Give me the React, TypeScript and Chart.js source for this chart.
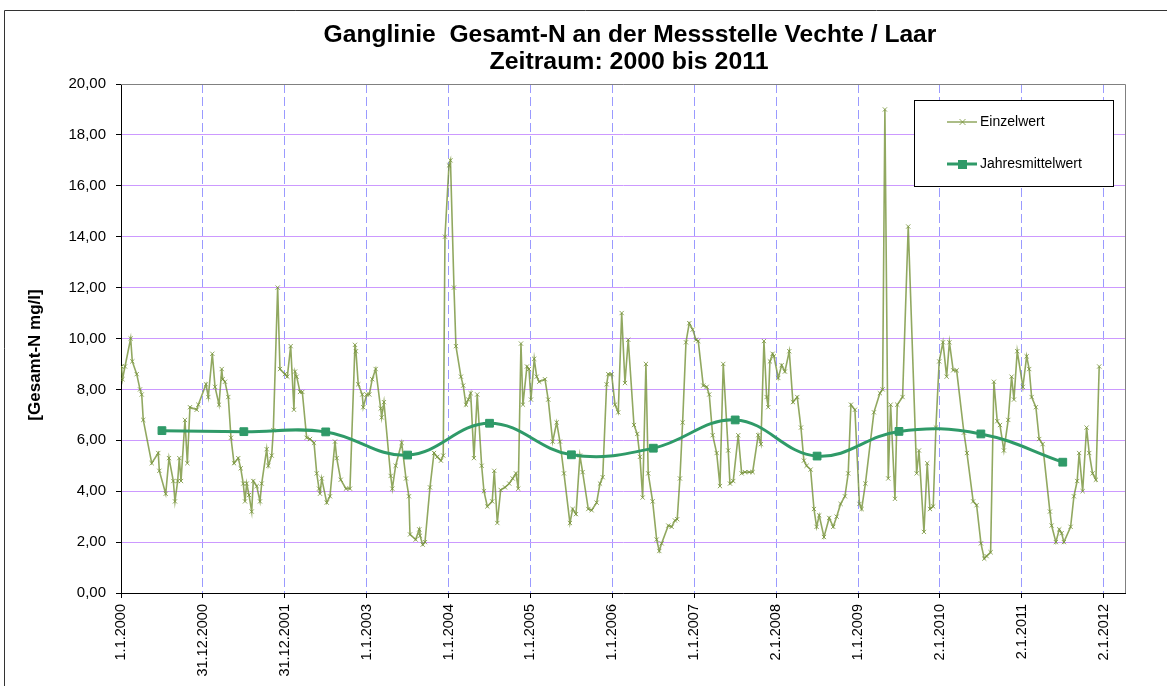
import React, { useEffect, useRef } from "react";
import { Chart, registerables } from "chart.js";

Chart.register(...registerables);

// ---- data (time in years since 1.1.2000) ----
const einzelTimes: number[] = [
  0.006, 0.018, 0.049, 0.118, 0.138, 0.192, 0.232, 0.253, 0.272, 0.375, 0.455, 0.468, 0.546, 0.586, 0.639, 0.659,
  0.692, 0.712, 0.733, 0.781, 0.81, 0.842, 0.924, 0.944, 1.038, 1.066, 1.115, 1.148, 1.197, 1.23, 1.242, 1.27,
  1.31, 1.343, 1.38, 1.432, 1.462, 1.493, 1.514, 1.535, 1.563, 1.596, 1.615, 1.657, 1.697, 1.718, 1.779, 1.799,
  1.84, 1.86, 1.913, 1.941, 2.002, 2.031, 2.072, 2.112, 2.125, 2.145, 2.186, 2.214, 2.267, 2.308, 2.357, 2.39,
  2.418, 2.43, 2.451, 2.512, 2.552, 2.613, 2.634, 2.683, 2.747, 2.796, 2.857, 2.869, 2.897, 2.946, 2.958, 3.0,
  3.032, 3.068, 3.11, 3.171, 3.183, 3.211, 3.293, 3.313, 3.354, 3.427, 3.48, 3.516, 3.529, 3.598, 3.642, 3.651,
  3.684, 3.712, 3.773, 3.822, 3.862, 3.907, 3.935, 3.956, 4.005, 4.023, 4.066, 4.09, 4.151, 4.179, 4.212, 4.241,
  4.27, 4.31, 4.35, 4.404, 4.432, 4.473, 4.533, 4.558, 4.595, 4.636, 4.689, 4.741, 4.783, 4.823, 4.851, 4.884,
  4.908, 4.957, 4.982, 5.006, 5.046, 5.076, 5.107, 5.177, 5.217, 5.271, 5.32, 5.36, 5.409, 5.482, 5.515, 5.556,
  5.604, 5.637, 5.706, 5.747, 5.808, 5.849, 5.882, 5.93, 5.95, 5.991, 6.032, 6.072, 6.114, 6.154, 6.194, 6.264,
  6.304, 6.337, 6.37, 6.41, 6.438, 6.492, 6.541, 6.573, 6.602, 6.683, 6.724, 6.764, 6.792, 6.825, 6.858, 6.899,
  6.939, 6.981, 7.021, 7.049, 7.11, 7.152, 7.183, 7.225, 7.274, 7.314, 7.354, 7.415, 7.436, 7.476, 7.537, 7.579,
  7.619, 7.672, 7.713, 7.781, 7.814, 7.851, 7.884, 7.903, 7.924, 7.957, 7.973, 8.026, 8.067, 8.107, 8.16, 8.205,
  8.258, 8.303, 8.339, 8.372, 8.421, 8.462, 8.494, 8.526, 8.584, 8.648, 8.697, 8.739, 8.787, 8.84, 8.88, 8.913,
  8.962, 9.017, 9.044, 9.09, 9.194, 9.267, 9.3, 9.328, 9.369, 9.398, 9.451, 9.479, 9.544, 9.613, 9.716, 9.744,
  9.805, 9.845, 9.878, 9.918, 9.951, 9.991, 10.037, 10.082, 10.116, 10.162, 10.204, 10.293, 10.33, 10.406, 10.448, 10.501,
  10.541, 10.57, 10.619, 10.659, 10.7, 10.733, 10.781, 10.834, 10.875, 10.904, 10.944, 11.013, 11.059, 11.09, 11.12, 11.172,
  11.212, 11.254, 11.343, 11.364, 11.416, 11.457, 11.486, 11.514, 11.596, 11.636, 11.676, 11.7, 11.743, 11.791, 11.823, 11.864,
  11.905, 11.945,
];

const einzelValues: number[] = [
  8.9, 8.4, 8.9, 10.0, 9.1, 8.6, 8.0, 7.8, 6.8, 5.1, 5.5, 4.8, 3.9, 5.3, 4.4, 3.6,
  4.4, 5.3, 4.4, 6.8, 5.1, 7.3, 7.2, 7.4, 8.2, 7.7, 9.4, 8.1, 7.4, 8.8, 8.4, 8.3,
  7.7, 6.1, 5.1, 5.3, 4.9, 4.3, 3.6, 4.3, 3.85, 3.2, 4.4, 4.2, 3.6, 4.3, 5.65, 5.0,
  5.4, 6.4, 12.0, 8.8, 8.6, 8.5, 9.7, 7.2, 8.7, 8.5, 7.9, 7.9, 6.1, 6.05, 5.9, 4.7,
  4.1, 3.9, 4.5, 3.55, 3.8, 5.95, 5.3, 4.45, 4.1, 4.1, 9.75, 9.5, 8.2, 7.8, 7.3, 7.8,
  7.8, 8.4, 8.8, 7.25, 6.9, 7.5, 4.6, 4.1, 5.0, 5.9, 4.5, 3.8, 2.3, 2.1, 2.5, 2.25,
  1.9, 2.0, 4.15, 5.5, 5.35, 5.2, 5.4, 14.0, 16.8, 17.0, 12.0, 9.7, 8.5, 8.15, 7.4, 7.6,
  7.85, 5.3, 7.8, 5.0, 4.0, 3.4, 3.6, 4.8, 2.75, 4.05, 4.15, 4.3, 4.5, 4.7, 4.1, 9.8,
  7.4, 8.9, 8.8, 7.6, 9.2, 8.5, 8.3, 8.4, 7.6, 5.95, 6.7, 5.95, 4.7, 2.75, 3.3, 3.1,
  5.4, 4.75, 3.3, 3.25, 3.55, 4.3, 4.55, 8.2, 8.6, 8.6, 7.4, 7.1, 11.0, 8.25, 9.95, 6.6,
  6.25, 5.35, 3.75, 9.0, 4.7, 3.6, 2.1, 1.65, 1.95, 2.65, 2.6, 2.85, 2.9, 4.5, 6.7, 9.85,
  10.6, 10.35, 9.95, 9.9, 8.15, 8.1, 7.8, 6.2, 5.5, 4.2, 9.0, 5.6, 4.3, 4.4, 6.2, 4.7,
  4.75, 4.75, 4.75, 6.2, 5.85, 9.9, 7.7, 7.3, 9.1, 9.4, 9.3, 8.45, 8.95, 8.7, 9.5, 7.5,
  7.7, 6.5, 5.2, 5.0, 4.85, 3.3, 2.6, 3.05, 2.2, 2.95, 2.6, 3.0, 3.5, 3.8, 4.7, 7.4,
  7.2, 3.5, 3.3, 4.3, 7.1, 7.85, 8.0, 19.0, 4.5, 7.4, 3.7, 7.4, 7.7, 14.4, 4.7, 5.6,
  2.4, 5.1, 3.3, 3.4, 6.5, 9.1, 9.85, 8.5, 9.85, 8.75, 8.75, 6.3, 5.5, 3.6, 3.45, 1.95,
  1.35, 1.45, 1.6, 8.3, 6.75, 6.6, 5.6, 6.8, 8.5, 7.6, 9.5, 8.1, 9.3, 8.8, 7.7, 7.3,
  6.05, 5.85, 3.2, 2.65, 2.0, 2.5, 2.35, 2.0, 2.6, 3.8, 4.4, 5.5, 4.0, 6.5, 5.5, 4.7,
  4.45, 8.9,
];

const mittelTimes: number[] = [0.5, 1.5, 2.5, 3.5, 4.5, 5.5, 6.5, 7.5, 8.5, 9.5, 10.5, 11.5];
const mittelValues: number[] = [6.38, 6.34, 6.33, 5.42, 6.67, 5.43, 5.69, 6.8, 5.38, 6.35, 6.25, 5.14];

const xTickValues: number[] = [0, 1, 2, 3, 4, 5, 6, 7, 8, 9, 10, 11, 12];
const xTickLabels: string[] = [
  "1.1.2000", "31.12.2000", "31.12.2001", "1.1.2003", "1.1.2004", "1.1.2005", "1.1.2006",
  "1.1.2007", "2.1.2008", "1.1.2009", "2.1.2010", "2.1.2011", "2.1.2012",
];
const xMin = 0;
const xMax = 12.26;
const yMin = 0;
const yMax = 20;
const yStep = 2;

const titleLines: string[] = ["Ganglinie  Gesamt-N an der Messstelle Vechte / Laar", "Zeitraum: 2000 bis 2011"];
const yAxisTitle = "[Gesamt-N mg/l]";
const seriesNames: string[] = ["Einzelwert", "Jahresmittelwert"];

const FONT = "'Liberation Sans', Arial, sans-serif";
const EINZEL_COLOR = "rgba(118,146,56,0.8)";
const MITTEL_COLOR = "#2f9a68";

const decorPlugin = {
  id: "decor",
  afterDraw(chart: any) {
    const ctx = chart.ctx as CanvasRenderingContext2D;
    const area = chart.chartArea;
    ctx.save();
    // outer frame
    ctx.strokeStyle = "#333";
    ctx.lineWidth = 1;
    ctx.beginPath();
    ctx.moveTo(4.5, 686);
    ctx.lineTo(4.5, 10.5);
    ctx.lineTo(1167, 10.5);
    ctx.stroke();

    // plot area border (top/right)
    ctx.strokeStyle = "#808080";
    ctx.beginPath();
    ctx.moveTo(area.left, Math.round(area.top) + 0.5);
    ctx.lineTo(Math.round(area.right) + 0.5, Math.round(area.top) + 0.5);
    ctx.lineTo(Math.round(area.right) + 0.5, area.bottom);
    ctx.stroke();

    // title (slightly widened like the original)
    ctx.fillStyle = "#000";
    ctx.textAlign = "center";
    ctx.textBaseline = "middle";
    ctx.font = `bold 23px ${FONT}`;
    ctx.save();
    ctx.translate(630, 36);
    ctx.scale(1.07, 1);
    ctx.fillText(titleLines[0], 0, 0);
    ctx.restore();
    ctx.save();
    ctx.translate(629, 63);
    ctx.scale(1.08, 1);
    ctx.fillText(titleLines[1], 0, 0);
    ctx.restore();

    // y axis title
    ctx.save();
    ctx.translate(35, 355);
    ctx.rotate(-Math.PI / 2);
    ctx.font = `bold 17px ${FONT}`;
    ctx.fillText(yAxisTitle, 0, 0);
    ctx.restore();

    // legend
    const bx = 914.5, by = 100.5, bw = 199, bh = 86;
    ctx.fillStyle = "#fff";
    ctx.fillRect(bx, by, bw, bh);
    ctx.strokeStyle = "#000";
    ctx.lineWidth = 1;
    ctx.strokeRect(bx, by, bw, bh);

    // entry 1
    const y1 = 122, y2 = 164;
    ctx.strokeStyle = EINZEL_COLOR;
    ctx.lineWidth = 1.5;
    ctx.beginPath();
    ctx.moveTo(947, y1);
    ctx.lineTo(977, y1);
    ctx.stroke();
    ctx.lineWidth = 1;
    ctx.beginPath();
    ctx.moveTo(959.5, y1 - 3);
    ctx.lineTo(965.5, y1 + 3);
    ctx.moveTo(965.5, y1 - 3);
    ctx.lineTo(959.5, y1 + 3);
    ctx.stroke();

    // entry 2
    ctx.strokeStyle = MITTEL_COLOR;
    ctx.lineWidth = 3;
    ctx.beginPath();
    ctx.moveTo(947, y2);
    ctx.lineTo(977, y2);
    ctx.stroke();
    ctx.fillStyle = MITTEL_COLOR;
    ctx.fillRect(958, y2 - 4, 9, 9);

    ctx.fillStyle = "#000";
    ctx.textAlign = "left";
    ctx.textBaseline = "middle";
    ctx.font = `14px ${FONT}`;
    ctx.fillText(seriesNames[0], 980, y1);
    ctx.fillText(seriesNames[1], 980, y2);
    ctx.restore();
  },
};

export default function App() {
  const canvasRef = useRef<HTMLCanvasElement | null>(null);

  useEffect(() => {
    const canvas = canvasRef.current;
    if (!canvas) return;
    const einzelData = einzelTimes.map((t, i) => ({ x: t, y: einzelValues[i] }));
    const mittelData = mittelTimes.map((t, i) => ({ x: t, y: mittelValues[i] }));

    const chart = new Chart(canvas, {
      type: "line",
      data: {
        datasets: [
          {
            label: seriesNames[1],
            data: mittelData,
            borderColor: MITTEL_COLOR,
            backgroundColor: MITTEL_COLOR,
            borderWidth: 3,
            tension: 0.4,
            pointStyle: "rect",
            pointRadius: 5.5,
            pointBorderWidth: 1,
            pointBackgroundColor: MITTEL_COLOR,
            pointBorderColor: MITTEL_COLOR,
            fill: false,
          },
          {
            label: seriesNames[0],
            data: einzelData,
            borderColor: EINZEL_COLOR,
            backgroundColor: EINZEL_COLOR,
            borderWidth: 1.6,
            tension: 0,
            pointStyle: "crossRot",
            pointRadius: 3,
            pointBorderWidth: 1,
            pointBorderColor: EINZEL_COLOR,
            fill: false,
          },
        ],
      },
      options: {
        responsive: false,
        animation: false,
        devicePixelRatio: 1,
        layout: { padding: { left: 0, right: 42, top: 84, bottom: 0 } },
        plugins: {
          legend: { display: false },
          title: { display: false },
          tooltip: { enabled: false },
        },
        scales: {
          x: {
            type: "linear",
            min: xMin,
            max: xMax,
            afterFit: (s: any) => {
              s.height = 93;
            },
            afterBuildTicks: (s: any) => {
              s.ticks = xTickValues.map((v) => ({ value: v }));
            },
            ticks: {
              autoSkip: false,
              maxRotation: 90,
              minRotation: 90,
              padding: 6,
              color: "#000",
              font: { family: FONT, size: 14.5 },
              callback: (_v: any, i: number) => xTickLabels[i],
            },
            grid: {
              color: "#9a9aff",
              lineWidth: 1,
              drawTicks: true,
              tickLength: 5,
              tickColor: "#000",
              tickBorderDash: [],
            },
            border: { display: true, color: "#000", width: 1, dash: [9, 4] },
          },
          y: {
            type: "linear",
            min: yMin,
            max: yMax,
            afterFit: (s: any) => {
              s.width = 121;
            },
            ticks: {
              stepSize: yStep,
              padding: 10,
              color: "#000",
              font: { family: FONT, size: 15 },
              callback: (v: any) => Number(v).toFixed(2).replace(".", ","),
            },
            grid: {
              color: "#cc99ff",
              lineWidth: 1,
              drawTicks: true,
              tickLength: 5,
              tickColor: "#000",
            },
            border: { display: true, color: "#000", width: 1 },
          },
        },
      },
      plugins: [decorPlugin],
    });
    return () => chart.destroy();
  }, []);

  return (
    <div style={{ position: "fixed", left: 0, top: 0, width: 1167, height: 686, background: "#fff" }}>
      <canvas ref={canvasRef} width={1167} height={686} style={{ display: "block" }} />
    </div>
  );
}
